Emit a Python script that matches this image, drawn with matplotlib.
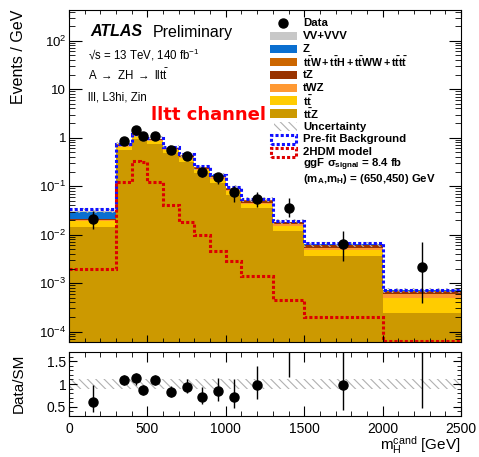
import matplotlib
matplotlib.use('Agg')
import matplotlib.pyplot as plt
import numpy as np
from matplotlib.patches import Rectangle
from matplotlib.lines import Line2D
from matplotlib.ticker import FixedLocator, MultipleLocator, LogLocator, FuncFormatter, NullFormatter

plt.rcParams['font.family'] = ['Liberation Sans', 'DejaVu Sans']
plt.rcParams['mathtext.fontset'] = 'custom'
plt.rcParams['mathtext.rm'] = 'Liberation Sans'
plt.rcParams['mathtext.it'] = 'Liberation Sans:italic'
plt.rcParams['mathtext.bf'] = 'Liberation Sans:bold'
plt.rcParams['hatch.linewidth'] = 0.8

# bin edges in GeV
edges = [0, 300, 400, 450, 500, 600, 700, 800, 900, 1000, 1100, 1300, 1500, 2000, 2500]

# stacked backgrounds (events / GeV), bottom to top
ttz  = [0.0141, 0.566, 0.955, 0.90, 0.74, 0.484, 0.31, 0.186, 0.116, 0.067, 0.036, 0.012, 0.0036, 0.00024]
tt   = [0.0054, 0.09, 0.12, 0.11, 0.10, 0.065, 0.065, 0.03, 0.025, 0.011, 0.007, 0.0030, 0.0013, 0.00025]
twz  = [0.0006, 0.025, 0.04, 0.04, 0.04, 0.025, 0.02, 0.012, 0.01, 0.005, 0.003, 0.0013, 0.0005, 0.00011]
tz   = [0.0005, 0.03, 0.04, 0.04, 0.04, 0.03, 0.025, 0.012, 0.01, 0.006, 0.004, 0.0015, 0.0006, 0.00007]
ttw  = [0.0005, 0.015, 0.025, 0.025, 0.02, 0.015, 0.01, 0.006, 0.004, 0.002, 0.0015, 0.0005, 0.0002, 0.00003]
zjet = [0.008, 0.008, 0.01, 0.008, 0.008, 0.005, 0.004, 0.002, 0.001, 0.001, 0.0005, 0.0002, 0.0001, 0.00001]
vv   = [0.002, 0.004, 0.006, 0.005, 0.005, 0.003, 0.002, 0.001, 0.001, 0.0005, 0.0003, 0.0001, 0.00005, 0.00001]

prefit = [0.034, 0.75, 1.21, 1.15, 0.99, 0.645, 0.46, 0.257, 0.172, 0.096, 0.054, 0.0194, 0.0066, 0.00073]
signal = [0.00196, 0.12, 0.336, 0.31, 0.122, 0.041, 0.0186, 0.0096, 0.0047, 0.0029, 0.00143, 0.00045, 0.000204, 0.000063]

# relative uncertainty band
unc_lo = [0.88] * 14
unc_hi = [1.12] * 14

# data
data_x  = [150, 350, 425, 475, 550, 650, 750, 850, 950, 1050, 1200, 1400, 1750, 2250]
data_y  = [0.021, 0.87, 1.42, 1.10, 1.10, 0.557, 0.42, 0.193, 0.152, 0.077, 0.054, 0.0357, 0.0064, 0.0022]
data_lo = [0.0132, 0.78, 1.30, 0.97, 1.00, 0.48, 0.36, 0.155, 0.11, 0.048, 0.0365, 0.023, 0.0029, 0.00039]
data_hi = [0.031, 0.97, 1.58, 1.24, 1.21, 0.64, 0.49, 0.235, 0.19, 0.099, 0.077, 0.056, 0.012, 0.0069]

ratio    = [0.61, 1.09, 1.13, 0.87, 1.08, 0.83, 0.94, 0.72, 0.84, 0.72, 0.98, 1.84, 0.97, 3.0]
ratio_lo = [0.37, 0.98, 0.97, 0.75, 0.98, 0.72, 0.80, 0.55, 0.62, 0.46, 0.66, 1.16, 0.43, 0.46]
ratio_hi = [0.97, 1.20, 1.25, 0.97, 1.20, 0.95, 1.12, 0.93, 1.14, 1.12, 1.39, 2.9, 1.9, 9.0]

components = [
    (ttz, '#cc9900', r'$\mathbf{t\bar{t}Z}$'),
    (tt, '#ffcc00', r'$\mathbf{t\bar{t}}$'),
    (twz, '#ff9933', 'tWZ'),
    (tz, '#993300', 'tZ'),
    (ttw, '#cc6600', r'$\mathbf{t\bar{t}W+t\bar{t}H+t\bar{t}WW+t\bar{t}t\bar{t}}$'),
    (zjet, '#0a6fd0', 'Z'),
    (vv, '#c8c8c8', 'VV+VVV'),
]

W, H = 479, 457
fig = plt.figure(figsize=(W / 100, H / 100), dpi=100)
ax = fig.add_axes([69 / W, 1 - 342 / H, 392 / W, 332 / H])
axr = fig.add_axes([69 / W, 1 - 416 / H, 392 / W, 64 / H])

# stack
base = np.full(len(ttz), 1e-7)
for vals, col, lab in components:
    top = base + np.array(vals)
    ax.stairs(top, edges, baseline=base, fill=True, color=col, lw=0)
    base = top
total = base

ax.stairs(total * np.array(unc_hi), edges, baseline=total * np.array(unc_lo), fill=True,
          facecolor='none', edgecolor='#b0b0b0', hatch='\\\\\\\\', lw=0)
ax.stairs(prefit, edges, baseline=None, color='#1010ff', lw=2.2, linestyle=(0, (1, 0.7)))
ax.stairs(signal, edges, baseline=None, color='#dd0000', lw=2.2, linestyle=(0, (1, 0.7)))

dy = np.array(data_y)
ax.errorbar(data_x, data_y, yerr=[dy - np.array(data_lo), np.array(data_hi) - dy],
            fmt='o', color='black', ms=6.5, elinewidth=1, capsize=0, zorder=10)

ax.set_yscale('log')
ax.set_xlim(0, 2500)
ax.set_ylim(6.1e-5, 430)


def logfmt(v, pos):
    e = int(round(np.log10(v)))
    if e == 0:
        return '1'
    if e == 1:
        return '10'
    return r'$10^{%d}$' % e


ax.yaxis.set_major_locator(LogLocator(base=10, numticks=20))
ax.yaxis.set_minor_locator(LogLocator(base=10, subs=np.arange(2, 10), numticks=20))
ax.yaxis.set_major_formatter(FuncFormatter(logfmt))
ax.yaxis.set_minor_formatter(NullFormatter())
ax.xaxis.set_major_locator(MultipleLocator(500))
ax.xaxis.set_minor_locator(MultipleLocator(100))
ax.tick_params(axis='both', which='both', direction='in', top=True, right=True)
ax.tick_params(axis='y', which='major', length=9, labelsize=9.5, pad=2)
ax.tick_params(axis='y', which='minor', length=4.5)
ax.tick_params(axis='x', which='major', length=5, labelbottom=False)
ax.tick_params(axis='x', which='minor', length=2.8)

# ratio panel
rb = np.array(ratio)
axr.stairs(unc_hi, edges, baseline=unc_lo, fill=True, facecolor='none',
           edgecolor='#b0b0b0', hatch='\\\\\\\\', lw=0)
axr.errorbar(data_x, ratio, yerr=[rb - np.array(ratio_lo), np.array(ratio_hi) - rb],
             fmt='o', color='black', ms=6.5, elinewidth=1, capsize=0, zorder=10)
axr.set_xlim(0, 2500)
axr.set_ylim(0.29, 1.71)
axr.yaxis.set_major_locator(FixedLocator([0.5, 1, 1.5]))
axr.yaxis.set_major_formatter(FuncFormatter(lambda v, p: '%g' % v))
axr.yaxis.set_minor_locator(MultipleLocator(0.1))
axr.xaxis.set_major_locator(MultipleLocator(500))
axr.xaxis.set_minor_locator(MultipleLocator(100))
axr.tick_params(axis='both', which='both', direction='in', top=True, right=True, labelsize=10)
axr.tick_params(axis='x', which='major', length=7, pad=4)
axr.tick_params(axis='x', which='minor', length=3.5)
axr.tick_params(axis='y', which='major', length=6, pad=2)
axr.tick_params(axis='y', which='minor', length=3)


def fx(x):
    return x / W


def fy(y):
    return 1 - y / H


fig.text(fx(19), fy(10), 'Events / GeV', rotation=90, ha='center', va='top', fontsize=11.5)
fig.text(fx(19), fy(383), 'Data/SM', rotation=90, ha='center', va='center', fontsize=11)
fig.text(fx(461), fy(445), r'$\mathrm{m_{H}^{cand}}$ [GeV]', ha='right', va='center', fontsize=11)

fig.text(fx(90), fy(32), 'ATLAS', fontsize=11.5, fontweight='bold', fontstyle='italic', va='center')
fig.text(fx(153), fy(32), 'Preliminary', fontsize=11.5, va='center')
fig.text(fx(88), fy(55), '√s = 13 TeV, 140 fb$^{-1}$', fontsize=8.3, va='center')
fig.text(fx(88), fy(75), r'A $\rightarrow$ ZH $\rightarrow$ llt$\bar{\mathrm{t}}$', fontsize=8.3, va='center')
fig.text(fx(88), fy(97), 'lll, L3hi, Zin', fontsize=8.3, va='center')
fig.text(fx(151), fy(115), 'lltt channel', fontsize=13, color='#ff0000', fontweight='bold',
         family='DejaVu Sans', va='center')

# legend
lx0, lx1, tx = 270, 297, 303
y0, step = 23.3, 12.9
lfs = 8.2
rows = ['Data'] + [c[2] for c in components[::-1]] + ['Uncertainty', 'Pre-fit Background', '2HDM model',
                                                        r'ggF $\mathbf{\sigma_{signal}}$ = 8.4 fb',
                                                        r'(m$_{\mathbf{A}}$,m$_{\mathbf{H}}$) = (650,450) GeV']
for i, lab in enumerate(rows):
    yc = y0 + i * step + (1.0 if i == len(rows) - 1 else 0)
    size = 7.7 if i == 3 else lfs
    fig.text(fx(tx), fy(yc), lab, fontsize=size, fontweight='bold', va='center')
fig.add_artist(Line2D([fx(283)], [fy(y0)], marker='o', color='black', ms=6.5, transform=fig.transFigure))
for i, (vals, col, lab) in enumerate(components[::-1]):
    yc = y0 + (i + 1) * step
    fig.add_artist(Rectangle((fx(lx0), fy(yc + 4.2)), (lx1 - lx0) / W, 8.4 / H, facecolor=col,
                             lw=0, transform=fig.transFigure))
yc = y0 + 8 * step
fig.add_artist(Rectangle((fx(lx0 + 4), fy(yc + 4.2)), (lx1 - lx0 - 4) / W, 8.4 / H, facecolor='none',
                         edgecolor='#b0b0b0', hatch='\\\\\\\\', lw=0, transform=fig.transFigure))
yc = y0 + 9 * step
fig.add_artist(Rectangle((fx(lx0 + 1), fy(yc + 4.5)), (lx1 - lx0 - 2) / W, 9 / H, facecolor='none',
                         edgecolor='#1010ff', lw=2.2, linestyle=(0, (1, 0.7)), transform=fig.transFigure))
yc = y0 + 10 * step
fig.add_artist(Rectangle((fx(lx0 + 1), fy(yc + 4.5)), (lx1 - lx0 - 2) / W, 9 / H, facecolor='none',
                         edgecolor='#dd0000', lw=2.2, linestyle=(0, (1, 0.7)), transform=fig.transFigure))

fig.savefig('out.png', dpi=100)
